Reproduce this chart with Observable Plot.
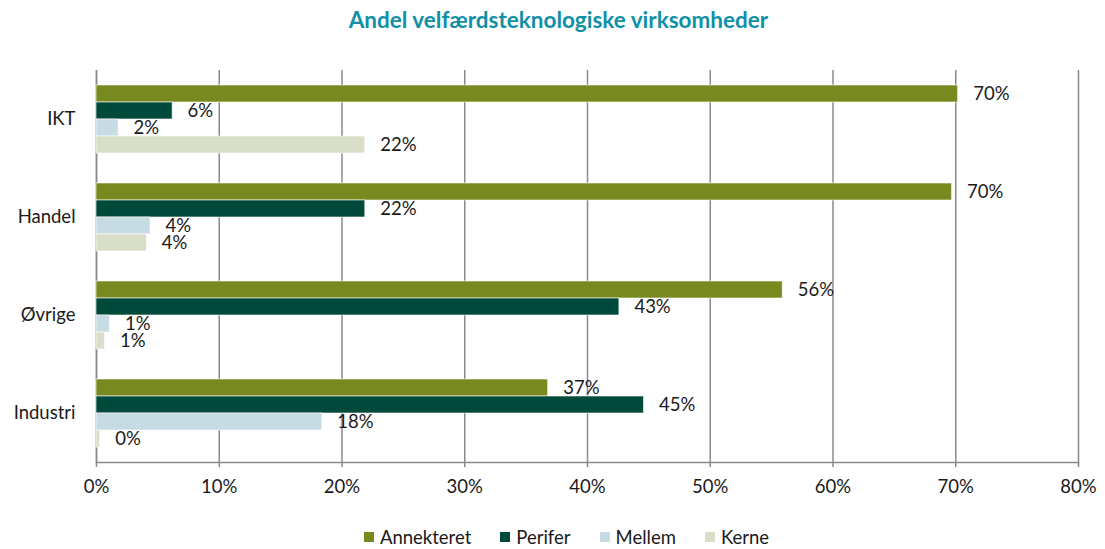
<!DOCTYPE html>
<html><head><meta charset="utf-8">
<script src="https://cdn.jsdelivr.net/npm/d3@7"></script>
<script src="https://cdn.jsdelivr.net/npm/@observablehq/plot@0.6"></script>
<style>
body{margin:0;background:#fff;font-family:Lato,"Open Sans",sans-serif;width:1105px;position:relative;}
#title{height:40px;line-height:40px;text-align:center;color:#1090a7;font-weight:bold;font-size:22.5px;padding-left:12px;}
#legend{margin-top:24px;height:20px;display:flex;justify-content:center;align-items:center;gap:29px;font-size:18.5px;color:#1a1a1a;padding-left:28px;}
#legend .item{display:flex;align-items:center;gap:6px;}
#legend .sw{width:10px;height:10px;display:inline-block;}
#chart svg{display:block;}
</style></head><body>
<div id="title">Andel velfærdsteknologiske virksomheder</div>
<div id="chart"></div>
<div id="legend"></div>
<script>
const categories = ["IKT", "Handel", "Øvrige", "Industri"];
const series = ["Annekteret", "Perifer", "Mellem", "Kerne"];
const colors = ["#78891f", "#004a3b", "#c6dbe3", "#d9dec8"];
const annekteret = [70.2, 69.7, 55.9, 36.8];
const perifer = [6.2, 21.9, 42.6, 44.6];
const mellem = [1.8, 4.4, 1.1, 18.4];
const kerne = [21.9, 4.1, 0.7, 0.3];
const xTicks = [0, 10, 20, 30, 40, 50, 60, 70, 80];

const valuesBySeries = [annekteret, perifer, mellem, kerne];
const rows = categories.flatMap((c, i) => series.map((s, j) => ({category: c, series: s, value: valuesBySeries[j][i]})));

const chart = Plot.plot({
  width: 1105, height: 463,
  marginLeft: 96, marginRight: 27, marginTop: 28, marginBottom: 40,
  style: {fontFamily: "Lato, 'Open Sans', sans-serif", fontSize: "18px", color: "#1a1a1a", background: "white"},
  x: {domain: [0, 80]},
  y: {domain: series, paddingInner: 0, paddingOuter: 0.74, axis: null},
  fy: {domain: categories, padding: 0},
  color: {domain: series, range: colors},
  marks: [
    Plot.gridX(xTicks, {stroke: "#8a8a8a", strokeOpacity: 1, strokeWidth: 1.5}),
    Plot.ruleX([0], {stroke: "#8a8a8a", strokeWidth: 1.5}),
    Plot.barX(rows, {fy: "category", y: "series", x: "value", fill: "series", stroke: "white", strokeWidth: 0.6}),
    Plot.text(rows, {fy: "category", y: "series", x: "value", text: d => Math.round(d.value) + "%", dx: 15, textAnchor: "start", fontSize: 18.5, fill: "#1a1a1a"}),
    Plot.frame({anchor: "bottom", facet: "super", stroke: "#8a8a8a", strokeWidth: 1.5}),
    Plot.axisX(xTicks, {tickSize: 5, tickPadding: 12, stroke: "#8a8a8a", strokeWidth: 1.5, fill: "#1a1a1a", tickFormat: d => d + "%", fontSize: 18.5, label: null}),
    Plot.axisFy({anchor: "left", tickSize: 0, tickPadding: 21, fontSize: 18.5, fill: "#1a1a1a", label: null})
  ]
});
document.getElementById("chart").appendChild(chart);

const legend = document.getElementById("legend");
series.forEach((s, i) => {
  const item = document.createElement("span");
  item.className = "item";
  const sw = document.createElement("span");
  sw.className = "sw";
  sw.style.background = colors[i];
  const t = document.createElement("span");
  t.textContent = s;
  item.appendChild(sw); item.appendChild(t);
  legend.appendChild(item);
});
</script>
</body></html>
